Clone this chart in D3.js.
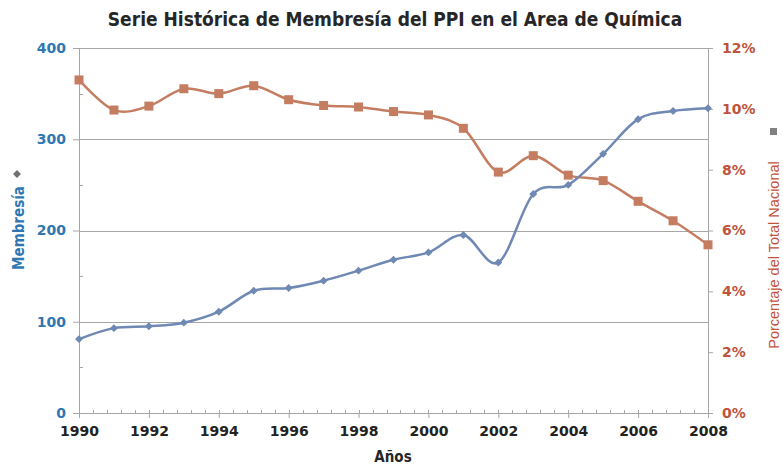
<!DOCTYPE html>
<html>
<head>
<meta charset="utf-8">
<script src="https://cdn.jsdelivr.net/npm/d3@7"></script>
<style>
	body { margin: 0; background: #fff; }
	svg { display: block; }
</style>
</head>
<body>
<svg id="chart" width="783" height="467"></svg>
<script>
var years = [1990, 1991, 1992, 1993, 1994, 1995, 1996, 1997, 1998, 1999,
	2000, 2001, 2002, 2003, 2004, 2005, 2006, 2007, 2008];
var membresia = [81, 93, 95, 99, 111, 134, 137, 145, 156, 168,
	176, 195, 165, 240, 250, 284, 322, 331, 334];
var porcentaje = [10.95, 9.96, 10.09, 10.66, 10.5, 10.76, 10.3, 10.11, 10.06, 9.91,
	9.8, 9.36, 7.92, 8.46, 7.82, 7.64, 6.96, 6.32, 5.53];
var leftTicks = [0, 100, 200, 300, 400];
var rightTicks = [0, 2, 4, 6, 8, 10, 12];
var xTicks = [1990, 1992, 1994, 1996, 1998, 2000, 2002, 2004, 2006, 2008];

var BLUE = '#6f88b4',
	ORANGE = '#c57d62',
	LEFT_TXT = '#2f77b0',
	RIGHT_TXT = '#c0533a',
	GRID = '#a6a6a6';

var svg = d3.select('#chart');
var margin = { top: 48, right: 75, bottom: 54, left: 79 },
	width = 783 - margin.left - margin.right,
	height = 467 - margin.top - margin.bottom;

var x = d3.scaleLinear().domain([1990, 2008]).range([0, width]);
var yL = d3.scaleLinear().domain([0, 400]).range([height, 0]);
var yR = d3.scaleLinear().domain([0, 12]).range([height, 0]);

var g = svg.append('g').attr('transform', 'translate(' + margin.left + ',' + margin.top + ')');

// gridlines
g.append('g')
	.selectAll('line')
	.data(leftTicks.slice(1))
	.enter()
	.append('line')
	.attr('x1', 0)
	.attr('x2', width)
	.attr('y1', function(d) { return Math.round(yL(d)) + 0.5; })
	.attr('y2', function(d) { return Math.round(yL(d)) + 0.5; })
	.attr('stroke', GRID)
	.attr('stroke-width', 1);

function styleAxis(sel) {
	sel.selectAll('path, line').attr('stroke', GRID);
	sel.select('.domain').remove();
}

// x axis: minor ticks every 0.4
var minor = d3.range(0, 46).map(function(i) { return 1990 + i * 0.4; });
var xa = g.append('g').attr('transform', 'translate(0,' + height + ')');
xa.append('line').attr('x1', 0).attr('x2', width).attr('y1', 0.5).attr('y2', 0.5).attr('stroke', GRID);
xa.selectAll('.minor')
	.data(minor)
	.enter()
	.append('line')
	.attr('class', 'minor')
	.attr('x1', function(d) { return Math.round(x(d)) + 0.5; })
	.attr('x2', function(d) { return Math.round(x(d)) + 0.5; })
	.attr('y1', -3)
	.attr('y2', 0)
	.attr('stroke', GRID);
xa.call(
	d3.axisBottom(x).tickValues(xTicks).tickFormat(d3.format('d')).tickSize(5).tickPadding(8)
).call(styleAxis);
xa.selectAll('text')
	.attr('fill', '#222')
	.style('font', 'bold 14px "DejaVu Sans"');

// left axis
var ya = g.append('g');
ya.append('line').attr('x1', 0.5).attr('x2', 0.5).attr('y1', 0).attr('y2', height).attr('stroke', GRID);
ya.selectAll('.minor')
	.data([50, 150, 250, 350])
	.enter()
	.append('line')
	.attr('class', 'minor')
	.attr('x1', 0)
	.attr('x2', 4)
	.attr('y1', function(d) { return Math.round(yL(d)) + 0.5; })
	.attr('y2', function(d) { return Math.round(yL(d)) + 0.5; })
	.attr('stroke', GRID);
ya.call(d3.axisLeft(yL).tickValues(leftTicks).tickSize(6).tickPadding(7)).call(styleAxis);
ya.selectAll('text')
	.attr('fill', LEFT_TXT)
	.style('font', 'bold 14px "DejaVu Sans"');

// right axis
var yra = g.append('g').attr('transform', 'translate(' + width + ',0)');
yra.append('line').attr('x1', 0.5).attr('x2', 0.5).attr('y1', 0).attr('y2', height).attr('stroke', GRID);
yra.call(
	d3.axisRight(yR).tickValues(rightTicks).tickFormat(function(d) { return d + '%'; }).tickSize(5).tickPadding(9)
).call(styleAxis);
yra.selectAll('text')
	.attr('fill', RIGHT_TXT)
	.style('font', 'bold 14px "DejaVu Sans"');

// lines
var curve = d3.curveCatmullRom.alpha(0);
var lineL = d3.line()
	.x(function(d, i) { return x(years[i]); })
	.y(function(d) { return yL(d); })
	.curve(curve);
var lineR = d3.line()
	.x(function(d, i) { return x(years[i]); })
	.y(function(d) { return yR(d); })
	.curve(curve);

g.append('path')
	.datum(porcentaje)
	.attr('d', lineR)
	.attr('fill', 'none')
	.attr('stroke', ORANGE)
	.attr('stroke-width', 2.5);

g.selectAll('.sq')
	.data(porcentaje)
	.enter()
	.append('rect')
	.attr('class', 'sq')
	.attr('x', function(d, i) { return x(years[i]) - 4.5; })
	.attr('y', function(d) { return yR(d) - 4.5; })
	.attr('width', 9)
	.attr('height', 9)
	.attr('fill', ORANGE);

g.append('path')
	.datum(membresia)
	.attr('d', lineL)
	.attr('fill', 'none')
	.attr('stroke', BLUE)
	.attr('stroke-width', 2.5);

g.selectAll('.dm')
	.data(membresia)
	.enter()
	.append('path')
	.attr('class', 'dm')
	.attr('d', d3.symbol().type(d3.symbolDiamond2).size(40))
	.attr('transform', function(d, i) { return 'translate(' + x(years[i]) + ',' + yL(d) + ')'; })
	.attr('fill', BLUE);

// title
svg.append('text')
	.attr('x', 395)
	.attr('y', 26)
	.attr('text-anchor', 'middle')
	.attr('fill', '#262626')
	.style('font', 'bold 19px "DejaVu Sans Condensed"')
	.text('Serie Histórica de Membresía del PPI en el Area de Química');

// x title
svg.append('text')
	.attr('x', 393)
	.attr('y', 462)
	.attr('text-anchor', 'middle')
	.attr('fill', '#262626')
	.style('font', 'bold 15px "DejaVu Sans Condensed"')
	.text('Años');

// left title with marker
var lt = svg.append('g').attr('transform', 'translate(24,228) rotate(-90)');
lt.append('text')
	.attr('x', 0)
	.attr('y', 0)
	.attr('text-anchor', 'middle')
	.attr('fill', LEFT_TXT)
	.style('font', 'bold 15px "DejaVu Sans Condensed"')
	.text('Membresía');
svg.append('path')
	.attr('d', d3.symbol().type(d3.symbolDiamond2).size(40))
	.attr('transform', 'translate(17,174)')
	.attr('fill', '#707070');

// right title with marker
var rt = svg.append('g').attr('transform', 'translate(779,255) rotate(-90)');
rt.append('text')
	.attr('x', 0)
	.attr('y', 0)
	.attr('text-anchor', 'middle')
	.attr('fill', RIGHT_TXT)
	.style('font', '14.5px "Liberation Sans"')
	.text('Porcentaje del Total Nacional');
svg.append('rect')
	.attr('x', 770)
	.attr('y', 128)
	.attr('width', 7)
	.attr('height', 7)
	.attr('fill', '#808080');
</script>
</body>
</html>
